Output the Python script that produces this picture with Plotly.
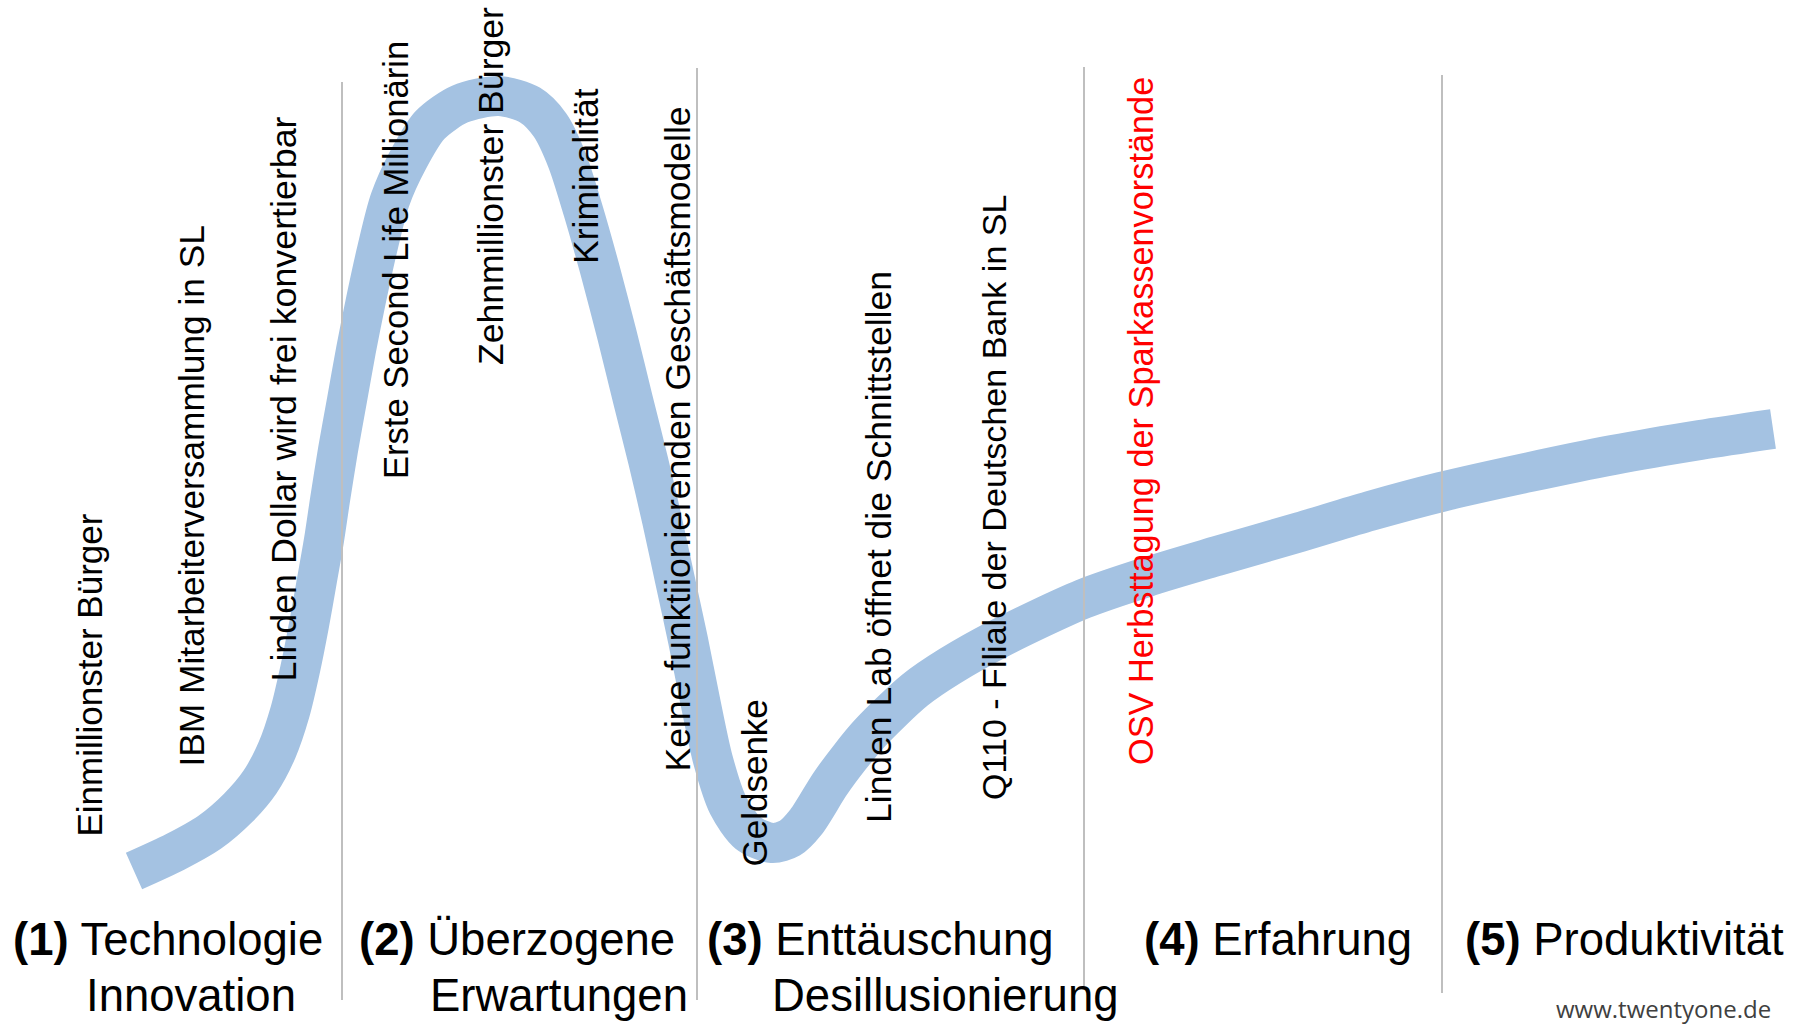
import plotly.graph_objects as go

# Hype-cycle curve: time (x) and expectation level (y)
hype_time = [134, 175, 210, 238, 260, 277, 290, 300, 309, 317, 324, 330, 338, 347, 356, 366, 377, 390,
             408, 430, 460, 499, 530, 550, 567, 583, 600, 617, 633, 648, 662, 675, 688, 700,
             713, 728, 748, 772, 790, 806, 830, 850, 870, 915, 950, 1000, 1083, 1150, 1217,
             1300, 1370, 1441, 1530, 1613, 1700, 1773]
hype_level = [154, 173, 193, 217, 243, 275, 313, 355, 400, 445, 485, 525, 575, 625, 675, 725, 775, 825,
              865, 900, 921, 929, 920, 900, 865, 815, 755, 690, 625, 565, 505, 445, 385, 325,
              265, 220, 192, 182, 187, 203, 241, 268, 292, 335, 359, 387, 426, 449, 469,
              493, 514, 533, 553, 570, 585, 596]

# Phase boundaries (time) with their vertical extent
phase_bounds = [342, 697, 1084, 1442]
phase_bound_top = [943, 957, 958, 950]
phase_bound_bottom = [25, 25, 37, 32]

# Event labels: text, time position, level where text starts, colour
event_texts = [
    "Einmillionster Bürger",
    "IBM Mitarbeiterversammlung in SL",
    "Linden Dollar wird frei konvertierbar",
    "Erste Second Life Millionärin",
    "Zehnmillionster Bürger",
    "Kriminalität",
    "Keine funktiionierenden Geschäftsmodelle",
    "Geldsenke",
    "Linden Lab öffnet die Schnittstellen",
    "Q110 - Filiale der Deutschen Bank in SL",
    "OSV Herbsttagung der Sparkassenvorstände",
]
event_time = [89, 191, 283, 396, 491, 586, 677, 754, 879, 994, 1141]
event_level = [186, 256, 341, 544, 658, 759, 251, 156, 200, 223, 258]
event_colors = ["black"] * 10 + ["#FF0000"]
# font size per label (style), matching the text lengths of the original
event_sizes = [35, 35.3, 35.8, 34.6, 35.6, 35.5, 35.5, 35, 35.5, 34.1, 34.3]

# Phase labels
phase_nums = ["(1)", "(2)", "(3)", "(4)", "(5)"]
phase_line1 = ["Technologie", "Überzogene", "Enttäuschung", "Erfahrung", "Produktivität"]
phase_line2 = ["Innovation", "Erwartungen", "Desillusionierung", "", ""]
phase_num_x = [11, 357, 705, 1142, 1463]
phase_word_x = [84, 428, 770, 1211, 1532]

watermark = "www.twentyone.de"

fig = go.Figure()
fig.add_trace(go.Scatter(
    x=hype_time, y=hype_level, mode="lines",
    line=dict(color="rgb(164,194,226)", width=40, shape="spline", smoothing=0.8),
    hoverinfo="skip",
))

for bx, bt, bb in zip(phase_bounds, phase_bound_top, phase_bound_bottom):
    fig.add_shape(type="line", x0=bx, x1=bx, y0=bb, y1=bt, xref="x", yref="y",
                  line=dict(color="#BFBFBF", width=2), layer="above")

lab_font = "Liberation Sans, Arial, sans-serif"
for t, x, y, c, s in zip(event_texts, event_time, event_level, event_colors, event_sizes):
    fig.add_annotation(x=x, y=y, xref="x", yref="y", text=t, textangle=-90,
                       showarrow=False, xanchor="center", yanchor="bottom",
                       font=dict(family=lab_font, size=s, color=c))

row1_y = 86
row2_y = 30
for n, l1, l2, nx, wx in zip(phase_nums, phase_line1, phase_line2, phase_num_x, phase_word_x):
    fig.add_annotation(x=nx, y=row1_y, xref="x", yref="y",
                       text="<b>" + n + "</b> " + l1, showarrow=False,
                       xanchor="left", yanchor="middle",
                       font=dict(family=lab_font, size=45.5, color="black"))
    if l2:
        fig.add_annotation(x=wx, y=row2_y, xref="x", yref="y", text=l2, showarrow=False,
                           xanchor="left", yanchor="middle",
                           font=dict(family=lab_font, size=45.5, color="black"))

fig.add_annotation(x=1663, y=17, xref="x", yref="y", text=watermark, showarrow=False,
                   xanchor="center", yanchor="middle",
                   font=dict(family="Open Sans, sans-serif", size=24, color="#404040"))

fig.update_layout(
    width=1806, height=1025,
    margin=dict(l=0, r=0, t=0, b=0),
    paper_bgcolor="white", plot_bgcolor="white",
    showlegend=False,
    xaxis=dict(range=[0, 1806], visible=False, fixedrange=True),
    yaxis=dict(range=[0, 1025], visible=False, fixedrange=True),
)

fig.write_html(
    "out.html",
    config={"displayModeBar": False},
    post_script="document.body.style.margin='0';document.body.style.overflow='hidden';",
)
